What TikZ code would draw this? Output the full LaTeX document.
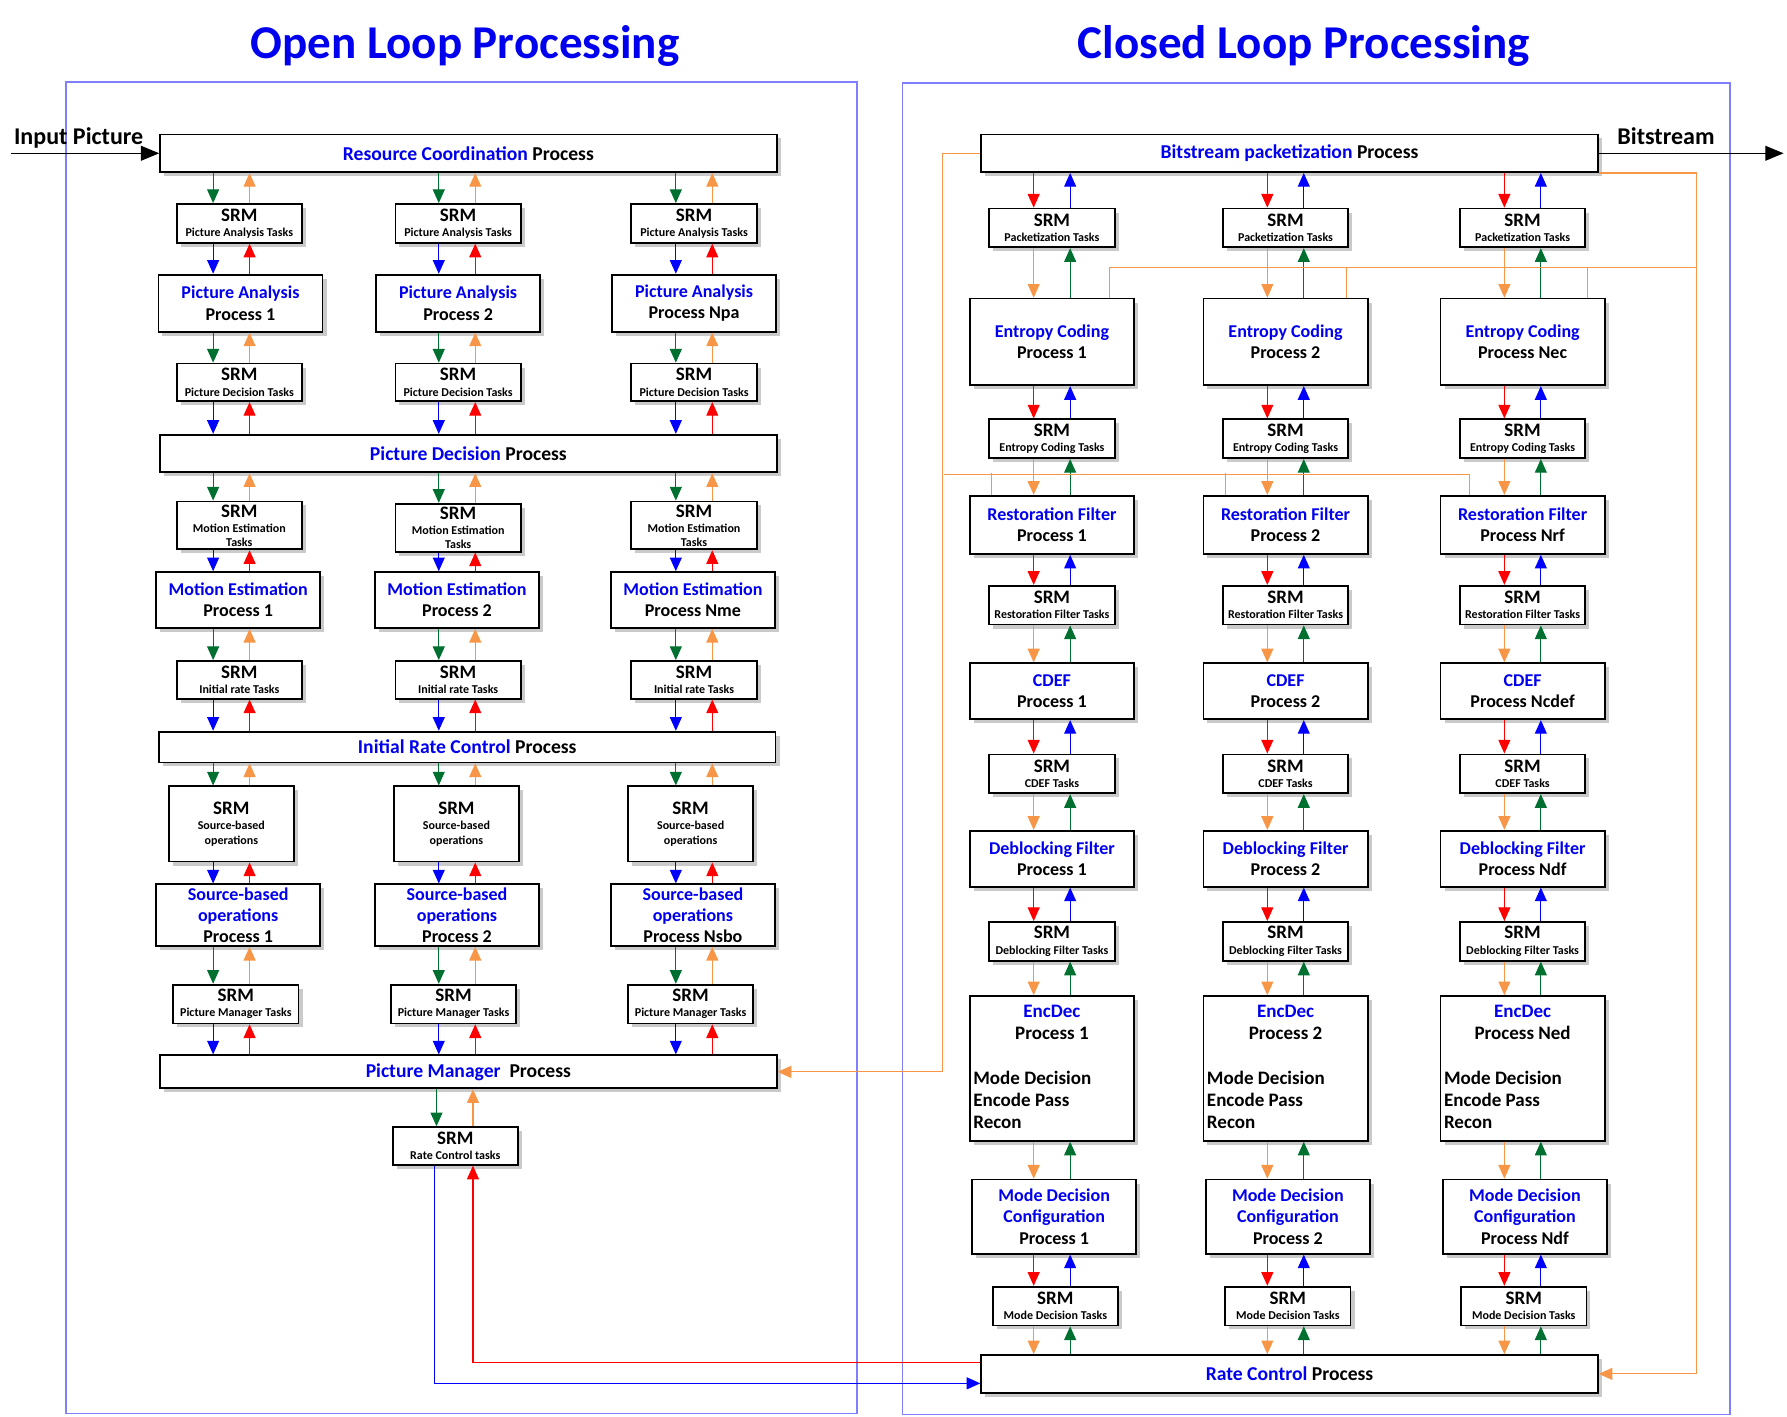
\documentclass[tikz,border=0pt]{standalone}
\usepackage{fontspec}
\setmainfont{Carlito}
\usetikzlibrary{positioning, arrows.meta, calc, shadows}

\definecolor{textblue}{RGB}{0,0,238}
\definecolor{framecolor}{RGB}{128,128,255}
\definecolor{flowgreen}{RGB}{0,112,48}
\definecolor{floworange}{RGB}{247,150,70}
\definecolor{flowred}{RGB}{255,0,0}
\definecolor{flowblue}{RGB}{0,0,255}

\newcommand{\srmsub}[1]{{\fontsize{6}{6}\selectfont #1}}

\begin{document}
\begin{tikzpicture}[
    x=0.2mm, y=-0.2mm,
    blockbox/.style={
        rectangle,
        draw=black,
        line width=0.9pt,
        fill=white,
        align=center,
        inner sep=0.4mm,
        drop shadow={shadow xshift=0.7mm, shadow yshift=-0.7mm, fill=black!60, opacity=0.35}
    },
    srm/.style={
        blockbox,
        minimum width=22mm,
        minimum height=6.8mm,
        font=\fontsize{9.5}{7.6}\selectfont\bfseries
    },
    proc/.style={
        blockbox,
        inner ysep=0pt,
        minimum width=28.8mm,
        font=\fontsize{9}{10.6}\selectfont\bfseries
    },
    wide/.style={
        blockbox,
        minimum width=108.2mm,
        minimum height=6.6mm,
        font=\fontsize{9.8}{11}\selectfont\bfseries
    },
    edtext/.style={
        inner sep=0pt,
        align=center,
        font=\fontsize{9.5}{11}\selectfont\bfseries
    },
    flow/.style={
        ->,
        line width=0.55pt,
        >={Triangle[length=2.4mm, width=2.1mm]}
    },
    iolink/.style={
        ->,
        line width=0.6pt,
        >={Triangle[length=3.2mm, width=2.6mm]}
    },
    feedback/.style={
        color=floworange,
        line width=0.6pt
    },
    heading/.style={
        font=\fontsize{23.5}{28}\selectfont\bfseries,
        text=textblue
    },
    iolabel/.style={
        inner sep=0pt,
        font=\fontsize{12}{14}\selectfont\bfseries
    },
    outerframe/.style={
        draw=framecolor,
        line width=0.7pt
    }
]
    \useasboundingbox (0,0) rectangle (1568,1243);

    % -- Headings and frames --
    \node[heading] (openhead) at (408,40) {Open Loop Processing};
    \node[heading] (closedhead) at (1144,40) {Closed Loop Processing};
    \draw[outerframe] (58,72) rectangle (752,1240);
    \draw[outerframe] (792,73) rectangle (1518,1241);

    % -- Open loop: shared processes --
    \node[wide] (rcp) at (411,134.5) {\textcolor{textblue}{Resource Coordination} Process};
    \node[wide] (pdp) at (411,398) {\textcolor{textblue}{Picture Decision} Process};
    \node[wide, minimum height=5.4mm] (ircp) at (410,655.5) {\textcolor{textblue}{Initial Rate Control} Process};
    \node[wide, minimum height=5.8mm] (pmp) at (411,940.5) {\textcolor{textblue}{Picture Manager}~ Process};

    % -- Open loop: picture analysis --
    \node[srm] (srmpa1) at (210,196) {SRM\\\srmsub{Picture Analysis Tasks}};
    \node[srm] (srmpa2) at (402,196) {SRM\\\srmsub{Picture Analysis Tasks}};
    \node[srm] (srmpa3) at (609,196) {SRM\\\srmsub{Picture Analysis Tasks}};
    \node[proc, minimum height=10mm] (pa1) at (211,266) {\textcolor{textblue}{Picture Analysis}\\Process 1};
    \node[proc, minimum height=10mm] (pa2) at (402,266) {\textcolor{textblue}{Picture Analysis}\\Process 2};
    \node[proc, minimum height=10mm] (pa3) at (609,266) {\textcolor{textblue}{Picture Analysis}\\Process Npa};
    \node[srm, minimum height=6.6mm] (srmpd1) at (210,335.5) {SRM\\\srmsub{Picture Decision Tasks}};
    \node[srm, minimum height=6.6mm] (srmpd2) at (402,335.5) {SRM\\\srmsub{Picture Decision Tasks}};
    \node[srm, minimum height=6.6mm] (srmpd3) at (609,335.5) {SRM\\\srmsub{Picture Decision Tasks}};

    % -- Open loop: motion estimation --
    \node[srm, minimum height=8.4mm] (srmme1) at (210,461) {SRM\\\srmsub{Motion Estimation}\\[-0.8pt]\srmsub{Tasks}};
    \node[srm, minimum height=8.4mm] (srmme2) at (402,463) {SRM\\\srmsub{Motion Estimation}\\[-0.8pt]\srmsub{Tasks}};
    \node[srm, minimum height=8.4mm] (srmme3) at (609,461) {SRM\\\srmsub{Motion Estimation}\\[-0.8pt]\srmsub{Tasks}};
    \node[proc, minimum height=9.8mm] (me1) at (209,526.5) {\textcolor{textblue}{Motion Estimation}\\Process 1};
    \node[proc, minimum height=9.8mm] (me2) at (401,526.5) {\textcolor{textblue}{Motion Estimation}\\Process 2};
    \node[proc, minimum height=9.8mm] (me3) at (608,526.5) {\textcolor{textblue}{Motion Estimation}\\Process Nme};
    \node[srm, minimum height=6.6mm] (srmir1) at (210,596.5) {SRM\\\srmsub{Initial rate Tasks}};
    \node[srm, minimum height=6.6mm] (srmir2) at (402,596.5) {SRM\\\srmsub{Initial rate Tasks}};
    \node[srm, minimum height=6.6mm] (srmir3) at (609,596.5) {SRM\\\srmsub{Initial rate Tasks}};

    % -- Open loop: source-based operations --
    \node[srm, minimum height=13.2mm] (srmsb1) at (203,723) {SRM\\\srmsub{Source-based}\\\srmsub{operations}};
    \node[srm, minimum height=13.2mm] (srmsb2) at (400.5,723) {SRM\\\srmsub{Source-based}\\\srmsub{operations}};
    \node[srm, minimum height=13.2mm] (srmsb3) at (606,723) {SRM\\\srmsub{Source-based}\\\srmsub{operations}};
    \node[proc, minimum height=10.8mm] (sb1) at (209,803) {\textcolor{textblue}{Source-based}\\\textcolor{textblue}{operations}\\Process 1};
    \node[proc, minimum height=10.8mm] (sb2) at (401,803) {\textcolor{textblue}{Source-based}\\\textcolor{textblue}{operations}\\Process 2};
    \node[proc, minimum height=10.8mm] (sb3) at (608,803) {\textcolor{textblue}{Source-based}\\\textcolor{textblue}{operations}\\Process Nsbo};
    \node[srm] (srmpm1) at (207,881) {SRM\\\srmsub{Picture Manager Tasks}};
    \node[srm] (srmpm2) at (398,881) {SRM\\\srmsub{Picture Manager Tasks}};
    \node[srm] (srmpm3) at (606,881) {SRM\\\srmsub{Picture Manager Tasks}};
    \node[srm, minimum height=6.6mm] (srmrc) at (399.5,1005.5) {SRM\\\srmsub{Rate Control tasks}};

    % -- Closed loop: shared processes --
    \node[wide] (bpp) at (1131.5,134.5) {\textcolor{textblue}{Bitstream packetization} Process};
    \node[wide] (rcpr) at (1131.5,1205.5) {\textcolor{textblue}{Rate Control} Process};

    % -- Closed loop: entropy coding and filters --
    \node[srm] (srmpk1) at (923,200) {SRM\\\srmsub{Packetization Tasks}};
    \node[srm] (srmpk2) at (1128,200) {SRM\\\srmsub{Packetization Tasks}};
    \node[srm] (srmpk3) at (1336,200) {SRM\\\srmsub{Packetization Tasks}};
    \node[proc, minimum height=15.2mm] (ec1) at (923,300) {\textcolor{textblue}{Entropy Coding}\\Process 1};
    \node[proc, minimum height=15.2mm] (ec2) at (1128,300) {\textcolor{textblue}{Entropy Coding}\\Process 2};
    \node[proc, minimum height=15.2mm] (ec3) at (1336,300) {\textcolor{textblue}{Entropy Coding}\\Process Nec};
    \node[srm] (srmec1) at (923,385) {SRM\\\srmsub{Entropy Coding Tasks}};
    \node[srm] (srmec2) at (1128,385) {SRM\\\srmsub{Entropy Coding Tasks}};
    \node[srm] (srmec3) at (1336,385) {SRM\\\srmsub{Entropy Coding Tasks}};
    \node[proc, minimum height=10.2mm] (rf1) at (923,460.5) {\textcolor{textblue}{Restoration Filter}\\Process 1};
    \node[proc, minimum height=10.2mm] (rf2) at (1128,460.5) {\textcolor{textblue}{Restoration Filter}\\Process 2};
    \node[proc, minimum height=10.2mm] (rf3) at (1336,460.5) {\textcolor{textblue}{Restoration Filter}\\Process Nrf};
    \node[srm] (srmrf1) at (923,531) {SRM\\\srmsub{Restoration Filter Tasks}};
    \node[srm] (srmrf2) at (1128,531) {SRM\\\srmsub{Restoration Filter Tasks}};
    \node[srm] (srmrf3) at (1336,531) {SRM\\\srmsub{Restoration Filter Tasks}};
    \node[proc, minimum height=9.8mm] (cdef1) at (923,606.5) {\textcolor{textblue}{CDEF}\\Process 1};
    \node[proc, minimum height=9.8mm] (cdef2) at (1128,606.5) {\textcolor{textblue}{CDEF}\\Process 2};
    \node[proc, minimum height=9.8mm] (cdef3) at (1336,606.5) {\textcolor{textblue}{CDEF}\\Process Ncdef};
    \node[srm] (srmcdef1) at (923,679) {SRM\\\srmsub{CDEF Tasks}};
    \node[srm] (srmcdef2) at (1128,679) {SRM\\\srmsub{CDEF Tasks}};
    \node[srm] (srmcdef3) at (1336,679) {SRM\\\srmsub{CDEF Tasks}};
    \node[proc, minimum height=9.8mm] (df1) at (923,753.5) {\textcolor{textblue}{Deblocking Filter}\\Process 1};
    \node[proc, minimum height=9.8mm] (df2) at (1128,753.5) {\textcolor{textblue}{Deblocking Filter}\\Process 2};
    \node[proc, minimum height=9.8mm] (df3) at (1336,753.5) {\textcolor{textblue}{Deblocking Filter}\\Process Ndf};
    \node[srm] (srmdf1) at (923,826) {SRM\\\srmsub{Deblocking Filter Tasks}};
    \node[srm] (srmdf2) at (1128,826) {SRM\\\srmsub{Deblocking Filter Tasks}};
    \node[srm] (srmdf3) at (1336,826) {SRM\\\srmsub{Deblocking Filter Tasks}};

    % -- Closed loop: encode / decode --
    \node[proc, minimum height=25.4mm] (encdec1) at (923,937.5) {};
    \node[proc, minimum height=25.4mm] (encdec2) at (1128,937.5) {};
    \node[proc, minimum height=25.4mm] (encdec3) at (1336,937.5) {};
    \node[edtext, below=1.7mm of encdec1.north] (edhead1) {\textcolor{textblue}{EncDec}\\Process 1};
    \node[edtext, below=1.7mm of encdec2.north] (edhead2) {\textcolor{textblue}{EncDec}\\Process 2};
    \node[edtext, below=1.7mm of encdec3.north] (edhead3) {\textcolor{textblue}{EncDec}\\Process Ned};
    \node[edtext, align=left, above right=2.3mm and 0.7mm of encdec1.south west] (edsteps1) {Mode Decision\\Encode Pass\\Recon};
    \node[edtext, align=left, above right=2.3mm and 0.7mm of encdec2.south west] (edsteps2) {Mode Decision\\Encode Pass\\Recon};
    \node[edtext, align=left, above right=2.3mm and 0.7mm of encdec3.south west] (edsteps3) {Mode Decision\\Encode Pass\\Recon};
    \node[proc, minimum height=13mm] (mdc1) at (925,1067.5) {\textcolor{textblue}{Mode Decision}\\\textcolor{textblue}{Configuration}\\Process 1};
    \node[proc, minimum height=13mm] (mdc2) at (1130,1067.5) {\textcolor{textblue}{Mode Decision}\\\textcolor{textblue}{Configuration}\\Process 2};
    \node[proc, minimum height=13mm] (mdc3) at (1338,1067.5) {\textcolor{textblue}{Mode Decision}\\\textcolor{textblue}{Configuration}\\Process Ndf};
    \node[srm] (srmmd1) at (926,1146) {SRM\\\srmsub{Mode Decision Tasks}};
    \node[srm] (srmmd2) at (1130,1146) {SRM\\\srmsub{Mode Decision Tasks}};
    \node[srm] (srmmd3) at (1337,1146) {SRM\\\srmsub{Mode Decision Tasks}};

    % -- Input and output --
    \coordinate (inpt) at (10,134.5);
    \coordinate (outpt) at (1565,134.5);
    \draw[iolink] (inpt) -- (rcp.west);
    \draw[iolink] (bpp.east) -- (outpt);
    \node[iolabel, above right=0.85mm and 0.4mm of inpt] (inlabel) {Input Picture};
    \node[iolabel, above right=1.5mm and 3.2mm of bpp.east] (outlabel) {Bitstream};

    % Open loop arrows, column by column
    \foreach \colid/\xdown/\xup in {1/187/219, 2/385/417, 3/593/625} {
        \coordinate (xd) at (\xdown,0);
        \coordinate (xu) at (\xup,0);
        \foreach \hi/\lo/\dcol/\ucol in {rcp/srmpa\colid/flowgreen/floworange,
            srmpa\colid/pa\colid/flowblue/flowred,
            pa\colid/srmpd\colid/flowgreen/floworange,
            srmpd\colid/pdp/flowblue/flowred,
            pdp/srmme\colid/flowgreen/floworange,
            srmme\colid/me\colid/flowblue/flowred,
            me\colid/srmir\colid/flowgreen/floworange,
            srmir\colid/ircp/flowblue/flowred,
            ircp/srmsb\colid/flowgreen/floworange,
            srmsb\colid/sb\colid/flowblue/flowred,
            sb\colid/srmpm\colid/flowgreen/floworange,
            srmpm\colid/pmp/flowblue/flowred} {
            \draw[flow, color=\dcol] (\hi.south -| xd) -- (\lo.north -| xd);
            \draw[flow, color=\ucol] (\lo.north -| xu) -- (\hi.south -| xu);
        }
    }

    % Closed loop arrows, column by column
    \foreach \colid/\xdown/\xup in {1/907/939, 2/1112/1144, 3/1320/1352} {
        \coordinate (xd) at (\xdown,0);
        \coordinate (xu) at (\xup,0);
        \foreach \hi/\lo/\dcol/\ucol in {bpp/srmpk\colid/flowred/flowblue,
            srmpk\colid/ec\colid/floworange/flowgreen,
            ec\colid/srmec\colid/flowred/flowblue,
            srmec\colid/rf\colid/floworange/flowgreen,
            rf\colid/srmrf\colid/flowred/flowblue,
            srmrf\colid/cdef\colid/floworange/flowgreen,
            cdef\colid/srmcdef\colid/flowred/flowblue,
            srmcdef\colid/df\colid/floworange/flowgreen,
            df\colid/srmdf\colid/flowred/flowblue,
            srmdf\colid/encdec\colid/floworange/flowgreen,
            encdec\colid/mdc\colid/floworange/flowgreen,
            mdc\colid/srmmd\colid/flowred/flowblue,
            srmmd\colid/rcpr/floworange/flowgreen} {
            \draw[flow, color=\dcol] (\hi.south -| xd) -- (\lo.north -| xd);
            \draw[flow, color=\ucol] (\lo.north -| xu) -- (\hi.south -| xu);
        }
    }

    % Rate control tasks and the links between the two loops
    \coordinate (rcdn) at (383,0);
    \coordinate (rcup) at (415,0);
    \coordinate (rcblue) at (381,0);
    \draw[flow, color=flowgreen] (pmp.south -| rcdn) -- (srmrc.north -| rcdn);
    \draw[flow, color=floworange] (srmrc.north -| rcup) -- (pmp.south -| rcup);
    \draw[flow, color=flowblue] (srmrc.south -| rcblue) |- ($(rcpr.south west)+(0,-9)$);
    \draw[flow, color=flowred] ($(rcpr.north west)+(0,7)$) -| (srmrc.south -| rcup);

    % Feedback (orange)
    \draw[flow, feedback] (bpp.west) -- ++(-33,0) |- (pmp.east);
    \draw[flow, feedback] (bpp.south east) -- ++(86,0) |- (rcpr.east);
    \coordinate (ectap) at (1488,235);
    \coordinate (rftap) at (828,416);
    \draw[feedback] ($(ec1.north east)+(-22,0)$) |- (ectap);
    \draw[feedback] ($(ec2.north east)+(-19,0)$) -- ++(0,-27);
    \draw[feedback] ($(ec3.north east)+(-16,0)$) -- ++(0,-27);
    \draw[feedback] ($(rf3.north west)+(26,0)$) |- (rftap);
    \draw[feedback] ($(rf1.north west)+(20,0)$) -- ++(0,-19);
    \draw[feedback] ($(rf2.north west)+(20,0)$) -- ++(0,-19);

\end{tikzpicture}
\end{document}
